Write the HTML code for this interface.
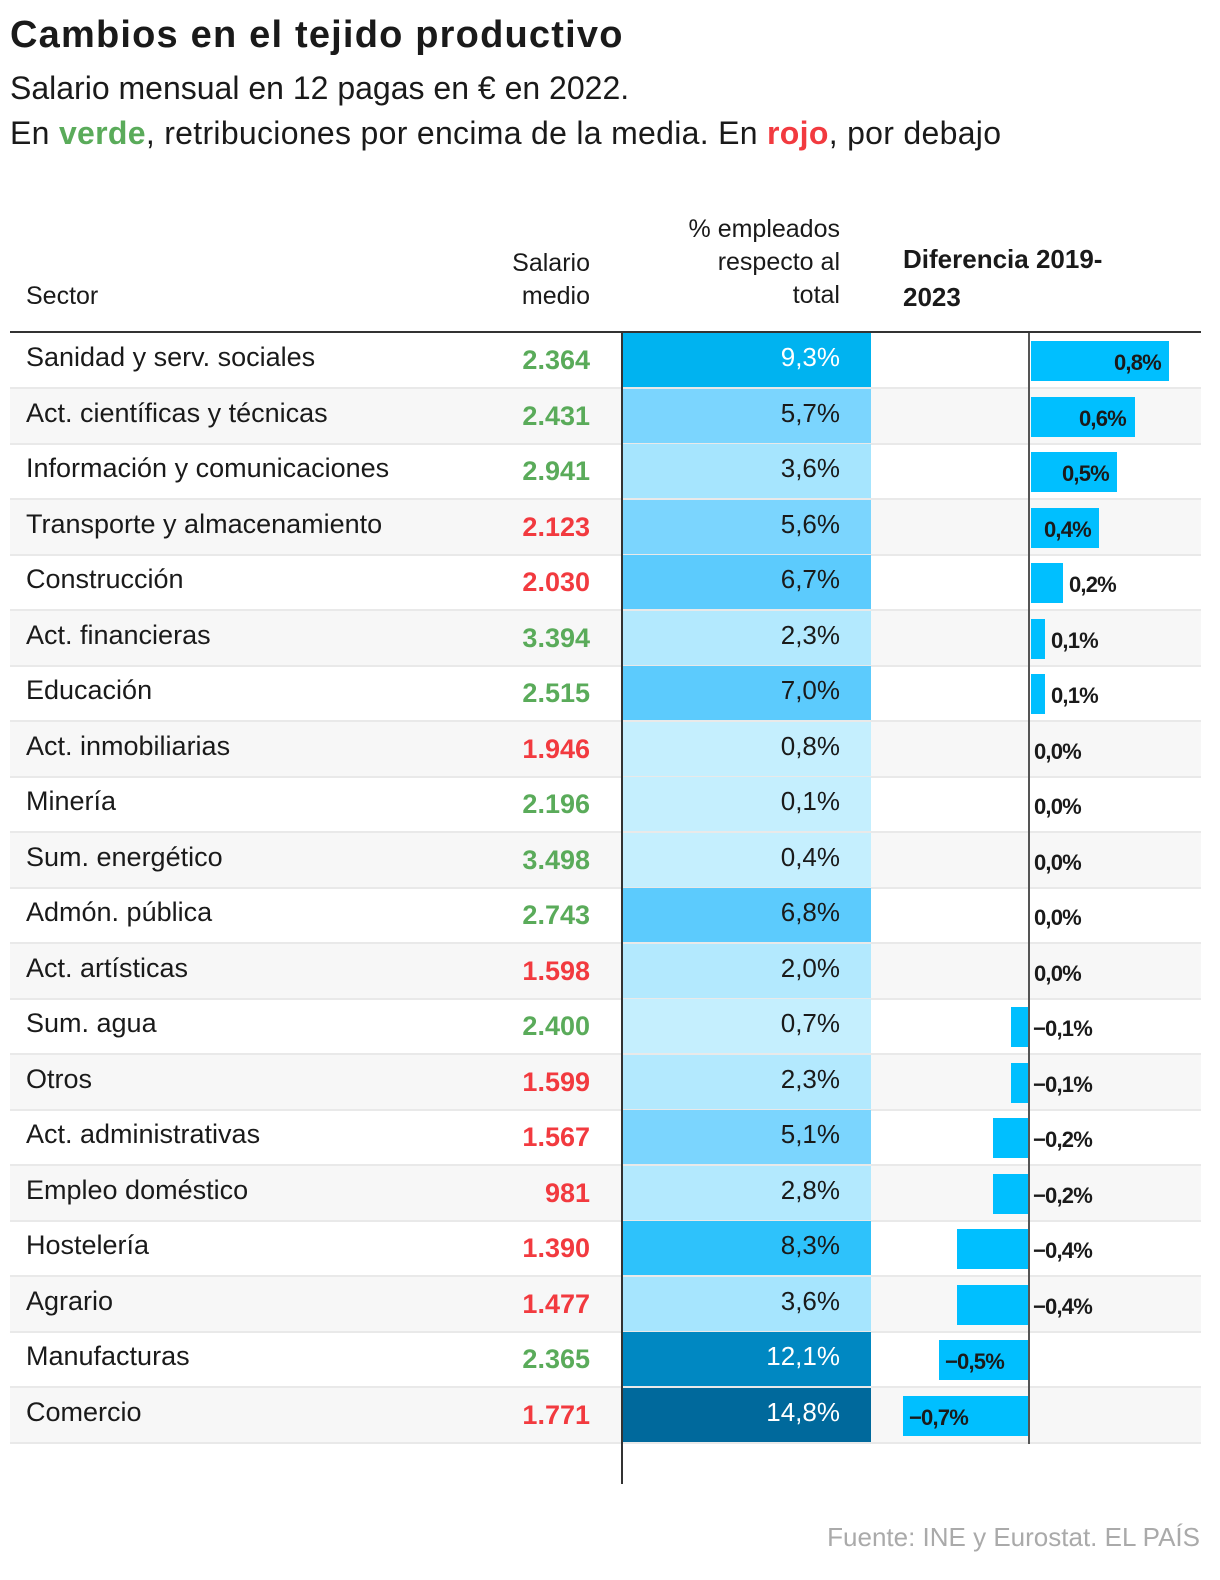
<!DOCTYPE html>
<html><head><meta charset="utf-8"><style>
*{margin:0;padding:0;box-sizing:border-box}
body{width:1220px;height:1580px;background:#fff;font-family:"Liberation Sans",sans-serif;color:#1a1a1a;position:relative;overflow:hidden}
.a{position:absolute;white-space:nowrap}
.r{position:absolute;left:10px;width:1191px;height:56px;border-bottom:2px solid #e9e9e9}
.r.g{background:#f7f7f7}
.l{position:absolute;left:16px;top:9px;font-size:27px;white-space:nowrap}
.s{position:absolute;right:611px;top:12px;font-size:27px;font-weight:bold}
.gr{color:#5aab5a}.rd{color:#f23a3f}
.c{position:absolute;left:612px;width:249px;top:0;height:54px;text-align:right;padding-right:31px;font-size:26px;padding-top:9px}
.b{position:absolute;top:8px;height:40px;background:#00bfff}
.v{position:absolute;top:17px;font-size:22px;font-weight:bold;letter-spacing:-0.8px;white-space:nowrap}
</style></head><body>
<div class="a" style="left:10px;top:14px;font-size:38px;font-weight:bold;letter-spacing:1.2px">Cambios en el tejido productivo</div>
<div class="a" style="left:10px;top:70px;font-size:32px">Salario mensual en 12 pagas en € en 2022.</div>
<div class="a" style="left:10px;top:115px;font-size:32px;letter-spacing:0.3px">En <b style="color:#5aab5a">verde</b>, retribuciones por encima de la media. En <b style="color:#f23a3f">rojo</b>, por debajo</div>
<div class="a" style="left:26px;top:282px;font-size:25px">Sector</div>
<div class="a" style="left:440px;top:247px;width:150px;text-align:right;font-size:25px;line-height:33px">Salario<br>medio</div>
<div class="a" style="left:600px;top:213px;width:240px;text-align:right;font-size:25px;line-height:33px">% empleados<br>respecto al<br>total</div>
<div class="a" style="left:903px;top:240px;font-size:26px;font-weight:bold;line-height:38px">Diferencia 2019-<br>2023</div>
<div class="a" style="left:10px;top:331px;width:1191px;height:2px;background:#333"></div>

<div class="r" style="top:333px"><div class="l">Sanidad y serv. sociales</div><div class="s gr">2.364</div><div class="c" style="background:#00b3f0;color:#fff">9,3%</div><div class="b" style="left:1021px;width:138px"></div><div class="v" style="left:1104px">0,8%</div></div>
<div class="r g" style="top:388.5px"><div class="l">Act. científicas y técnicas</div><div class="s gr">2.431</div><div class="c" style="background:#7bd5fe">5,7%</div><div class="b" style="left:1021px;width:104px"></div><div class="v" style="left:1069px">0,6%</div></div>
<div class="r" style="top:444px"><div class="l">Información y comunicaciones</div><div class="s gr">2.941</div><div class="c" style="background:#a6e5fe">3,6%</div><div class="b" style="left:1021px;width:86px"></div><div class="v" style="left:1052px">0,5%</div></div>
<div class="r g" style="top:499.5px"><div class="l">Transporte y almacenamiento</div><div class="s rd">2.123</div><div class="c" style="background:#7bd5fe">5,6%</div><div class="b" style="left:1021px;width:68px"></div><div class="v" style="left:1034px">0,4%</div></div>
<div class="r" style="top:555px"><div class="l">Construcción</div><div class="s rd">2.030</div><div class="c" style="background:#5ccbfd">6,7%</div><div class="b" style="left:1021px;width:32px"></div><div class="v" style="left:1059px">0,2%</div></div>
<div class="r g" style="top:610.5px"><div class="l">Act. financieras</div><div class="s gr">3.394</div><div class="c" style="background:#b3e9fe">2,3%</div><div class="b" style="left:1021px;width:14px"></div><div class="v" style="left:1041px">0,1%</div></div>
<div class="r" style="top:666px"><div class="l">Educación</div><div class="s gr">2.515</div><div class="c" style="background:#5ccbfd">7,0%</div><div class="b" style="left:1021px;width:14px"></div><div class="v" style="left:1041px">0,1%</div></div>
<div class="r g" style="top:721.5px"><div class="l">Act. inmobiliarias</div><div class="s rd">1.946</div><div class="c" style="background:#c5effe">0,8%</div><div class="v" style="left:1024px">0,0%</div></div>
<div class="r" style="top:777px"><div class="l">Minería</div><div class="s gr">2.196</div><div class="c" style="background:#c5effe">0,1%</div><div class="v" style="left:1024px">0,0%</div></div>
<div class="r g" style="top:832.5px"><div class="l">Sum. energético</div><div class="s gr">3.498</div><div class="c" style="background:#c5effe">0,4%</div><div class="v" style="left:1024px">0,0%</div></div>
<div class="r" style="top:888px"><div class="l">Admón. pública</div><div class="s gr">2.743</div><div class="c" style="background:#5ccbfd">6,8%</div><div class="v" style="left:1024px">0,0%</div></div>
<div class="r g" style="top:943.5px"><div class="l">Act. artísticas</div><div class="s rd">1.598</div><div class="c" style="background:#b3e9fe">2,0%</div><div class="v" style="left:1024px">0,0%</div></div>
<div class="r" style="top:999px"><div class="l">Sum. agua</div><div class="s gr">2.400</div><div class="c" style="background:#c5effe">0,7%</div><div class="b" style="left:1001px;width:18px"></div><div class="v" style="left:1023px">−0,1%</div></div>
<div class="r g" style="top:1054.5px"><div class="l">Otros</div><div class="s rd">1.599</div><div class="c" style="background:#b3e9fe">2,3%</div><div class="b" style="left:1001px;width:18px"></div><div class="v" style="left:1023px">−0,1%</div></div>
<div class="r" style="top:1110px"><div class="l">Act. administrativas</div><div class="s rd">1.567</div><div class="c" style="background:#7bd5fe">5,1%</div><div class="b" style="left:983px;width:36px"></div><div class="v" style="left:1023px">−0,2%</div></div>
<div class="r g" style="top:1165.5px"><div class="l">Empleo doméstico</div><div class="s rd">981</div><div class="c" style="background:#b3e9fe">2,8%</div><div class="b" style="left:983px;width:36px"></div><div class="v" style="left:1023px">−0,2%</div></div>
<div class="r" style="top:1221px"><div class="l">Hostelería</div><div class="s rd">1.390</div><div class="c" style="background:#2ec2fb">8,3%</div><div class="b" style="left:947px;width:72px"></div><div class="v" style="left:1023px">−0,4%</div></div>
<div class="r g" style="top:1276.5px"><div class="l">Agrario</div><div class="s rd">1.477</div><div class="c" style="background:#a6e5fe">3,6%</div><div class="b" style="left:947px;width:72px"></div><div class="v" style="left:1023px">−0,4%</div></div>
<div class="r" style="top:1332px"><div class="l">Manufacturas</div><div class="s gr">2.365</div><div class="c" style="background:#0088c2;color:#fff">12,1%</div><div class="b" style="left:929px;width:90px"></div><div class="v" style="left:935px">−0,5%</div></div>
<div class="r g" style="top:1387.5px"><div class="l">Comercio</div><div class="s rd">1.771</div><div class="c" style="background:#00699c;color:#fff">14,8%</div><div class="b" style="left:893px;width:126px"></div><div class="v" style="left:899px">−0,7%</div></div>

<div class="a" style="left:621px;top:333px;width:2px;height:1151px;background:#333"></div>
<div class="a" style="left:1028px;top:333px;width:2px;height:1111px;background:#555"></div>
<div class="a" style="right:20px;top:1522px;font-size:26px;color:#aaa">Fuente: INE y Eurostat. EL PAÍS</div>
</body></html>
